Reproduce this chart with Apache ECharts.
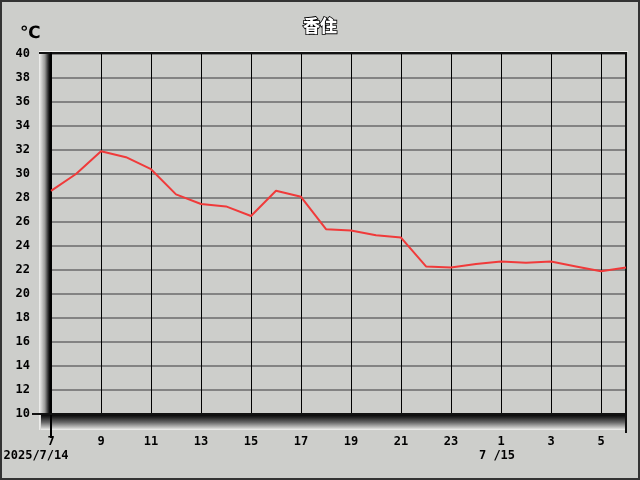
<!DOCTYPE html>
<html>
<head>
<meta charset="utf-8">
<script src="https://cdn.jsdelivr.net/npm/echarts@6/dist/echarts.min.js"></script>
<style>html,body{margin:0;padding:0;background:#cdcecb;}#c{width:640px;height:480px;}</style>
</head>
<body>
<div id="c"></div>
<script>
const stationName = '香住';
const unitLabel = '℃';
const hours = ['7','8','9','10','11','12','13','14','15','16','17','18','19','20','21','22','23','0','1','2','3','4','5','6'];
const temps = [28.6,30.0,31.9,31.4,30.4,28.3,27.5,27.3,26.5,28.6,28.1,25.4,25.3,24.9,24.7,22.3,22.2,22.5,22.7,22.6,22.7,22.3,21.9,22.2];
const dateLabels = {0:'2025/7/14', 18:'7 /15'};
const yMin = 10, yMax = 40, yStep = 2;

const chart = echarts.init(document.getElementById('c'), null, {renderer:'canvas'});
const monoFont = 'DejaVu Sans Mono';
chart.setOption({
  backgroundColor: '#cdcecb',
  animation: false,
  title: [
    {text: stationName, left: 298, top: 12,
     textStyle: {fontSize: 17, fontWeight: 900, color: '#ffffff', textBorderColor: '#000', textBorderWidth: 1.6, fontFamily: 'Noto Sans CJK JP'}},
    {text: unitLabel, left: 15, top: 20,
     textStyle: {fontSize: 17, fontWeight: 'bold', color: '#000', fontFamily: 'DejaVu Sans'}}
  ],
  graphic: [
    {type:'rect', z:-1, shape:{x:1,y:1,width:638,height:478}, style:{fill:null, stroke:'#333', lineWidth:2}},
    {type:'rect', z:1, shape:{x:39,y:51,width:13,height:379},
     style:{fill:new echarts.graphic.LinearGradient(0,0,1,0,[{offset:0,color:'#f2f2f0'},{offset:0.15,color:'#d8d8d6'},{offset:0.45,color:'#9a9a98'},{offset:0.7,color:'#303030'},{offset:0.85,color:'#000'},{offset:1,color:'#000'}])}},
    {type:'rect', z:1, shape:{x:41,y:415,width:586,height:15},
     style:{fill:new echarts.graphic.LinearGradient(0,0,0,1,[{offset:0,color:'#0a0a0a'},{offset:0.15,color:'#222'},{offset:0.5,color:'#6a6a6a'},{offset:0.85,color:'#c8c8c6'},{offset:1,color:'#f4f4f2'}])}},
    {type:'rect', z:2, shape:{x:39,y:51,width:589,height:1}, style:{fill:'#f2f2f0'}},
    {type:'rect', z:2, shape:{x:39,y:52,width:588,height:2}, style:{fill:'#111'}},
    {type:'rect', z:2, shape:{x:625,y:52,width:2,height:381}, style:{fill:'#111'}},
    {type:'rect', z:2, shape:{x:50,y:52,width:2,height:386}, style:{fill:'#000'}},
    {type:'rect', z:2, shape:{x:32,y:413,width:20,height:2}, style:{fill:'#111'}}
  ],
  grid: {left: 51, right: 14, top: 54, bottom: 66, containLabel: false},
  xAxis: [
    {type:'category', data: hours, boundaryGap:false,
     axisLine:{show:true, lineStyle:{color:'#111', width:2}},
     axisTick:{show:false},
     axisLabel:{interval:1, margin:22, color:'#000', fontSize:12, fontWeight:'bold', fontFamily:monoFont},
     splitLine:{show:true, interval:1, lineStyle:{color:'#000', width:1}}},
    {type:'category', data: hours, boundaryGap:false, position:'bottom',
     axisLine:{show:false}, axisTick:{show:false}, splitLine:{show:false},
     axisLabel:{interval:0, margin:36, color:'#000', fontSize:12, fontWeight:'bold', fontFamily:monoFont,
       formatter:(v,i)=> dateLabels[i] ? (i===0 ? '{a|'+dateLabels[i]+'}' : '{b|'+dateLabels[i]+'}') : '',
       rich:{a:{fontSize:12, fontWeight:'bold', fontFamily:monoFont, padding:[0,30,0,0]},
             b:{fontSize:12, fontWeight:'bold', fontFamily:monoFont, padding:[0,8,0,0]}}}}
  ],
  yAxis: {type:'value', min:yMin, max:yMax, interval:yStep,
    axisLine:{show:false}, axisTick:{show:false},
    axisLabel:{margin:21, color:'#000', fontSize:12, fontWeight:'bold', fontFamily:monoFont, padding:[3,0,0,0]},
    splitLine:{show:true, lineStyle:{color:'#838383', width:2}}},
  series: [{type:'line', data: temps, xAxisIndex:0, showSymbol:false, symbol:'none',
    lineStyle:{color:'#f03a3a', width:2}, z:5}]
});
</script>
</body>
</html>
